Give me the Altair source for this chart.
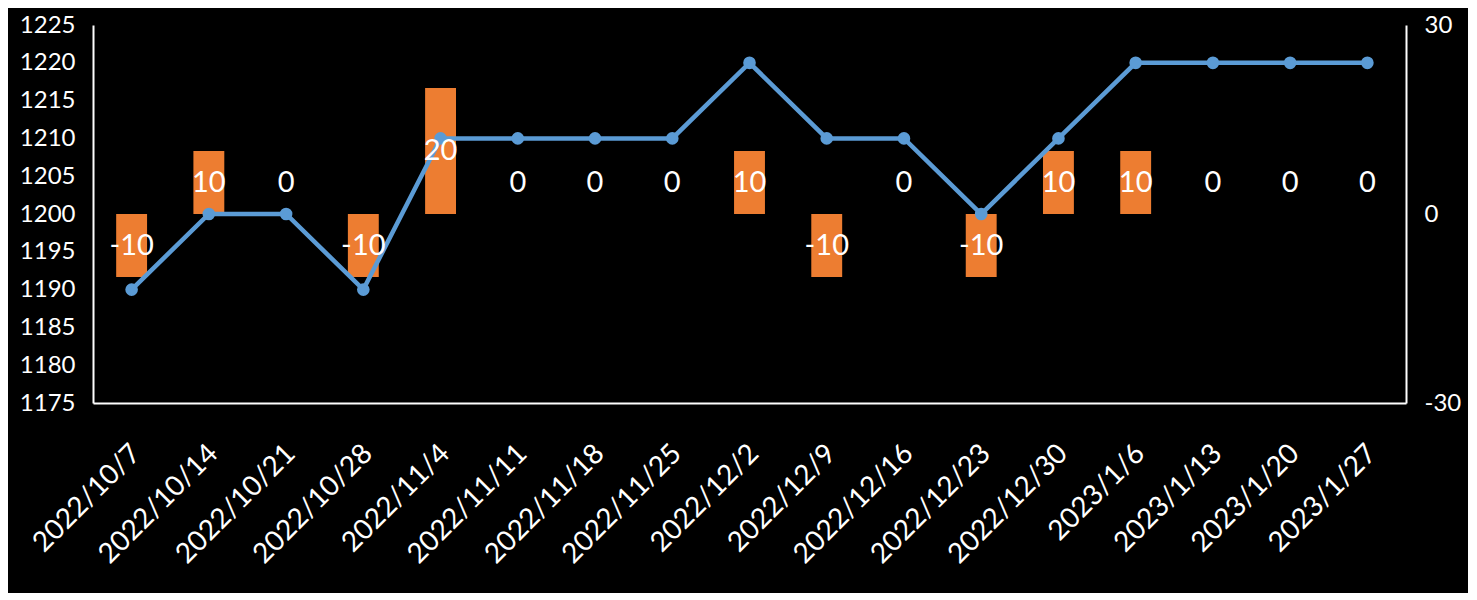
import altair as alt
import pandas as pd

dates = ["2022/10/7", "2022/10/14", "2022/10/21", "2022/10/28", "2022/11/4",
         "2022/11/11", "2022/11/18", "2022/11/25", "2022/12/2", "2022/12/9",
         "2022/12/16", "2022/12/23", "2022/12/30", "2023/1/6", "2023/1/13",
         "2023/1/20", "2023/1/27"]
price = [1190, 1200, 1200, 1190, 1210, 1210, 1210, 1210, 1220, 1210,
         1210, 1200, 1210, 1220, 1220, 1220, 1220]
change = [-10, 10, 0, -10, 20, 0, 0, 0, 10, -10, 0, -10, 10, 10, 0, 0, 0]

left_ticks = [1175, 1180, 1185, 1190, 1195, 1200, 1205, 1210, 1215, 1220, 1225]
right_ticks = [-30, 0, 30]

df = pd.DataFrame({"date": dates, "price": price, "change": change})

FONT = "Lato"
ORANGE = "#ED7D31"
BLUE = "#5B9BD5"

x = alt.X("date:N", sort=dates,
          scale=alt.Scale(paddingInner=0.6, paddingOuter=0.3),
          axis=alt.Axis(title=None, labelAngle=-45, labelAlign="right",
                        labelBaseline="middle", labelColor="white",
                        labelFontSize=28, labelFont=FONT, labelPadding=46,
                        labelOffset=5,
                        ticks=False, domainColor="white", domainWidth=2,
                        labelOverlap=False))

yr_scale = alt.Scale(domain=[-30, 30], nice=False, zero=False)

bars = alt.Chart(df).mark_bar(color=ORANGE).encode(
    x=x,
    y=alt.Y("change:Q", scale=yr_scale,
            axis=alt.Axis(orient="right", title=None, values=right_ticks,
                          labelColor="white", labelFontSize=24, labelFont=FONT,
                          ticks=False, grid=False, domainColor="white",
                          domainWidth=2, labelPadding=18,
                          labelExpr="'' + datum.value")),
    y2=alt.datum(0),
)

line = alt.Chart(df).mark_line(color=BLUE, strokeWidth=4.5,
                               point=alt.OverlayMarkDef(color=BLUE, size=160, opacity=1, filled=True)).encode(
    x=x,
    y=alt.Y("price:Q", scale=alt.Scale(domain=[1175, 1225], nice=False, zero=False),
            axis=alt.Axis(orient="left", title=None, values=left_ticks,
                          labelColor="white", labelFontSize=24, labelFont=FONT,
                          ticks=False, grid=False, domainColor="white",
                          domainWidth=2, labelPadding=18,
                          labelExpr="'' + datum.value")),
)

text_nz = alt.Chart(df).transform_filter("datum.change != 0").transform_calculate(
    half="datum.change / 2", lab="'' + datum.change"
).mark_text(color="white", fontSize=29, font=FONT, baseline="middle").encode(
    x=x,
    y=alt.Y("half:Q", scale=yr_scale, axis=None),
    text="lab:N",
)

text_z = alt.Chart(df).transform_filter("datum.change == 0").transform_calculate(
    lab="'' + datum.change"
).mark_text(color="white", fontSize=29, font=FONT, baseline="middle", dy=-31).encode(
    x=x,
    y=alt.Y("change:Q", scale=yr_scale, axis=None),
    text="lab:N",
)

chart = alt.layer(bars, line, text_nz, text_z).resolve_scale(
    y="independent"
).properties(
    width=1313, height=378,
    autosize=alt.AutoSizeParams(type="none"),
    padding={"left": 85, "top": 17, "right": 62, "bottom": 190},
    background="black",
).configure_view(stroke=None)

chart.save("out.html", embed_options={"renderer": "svg", "actions": False})
